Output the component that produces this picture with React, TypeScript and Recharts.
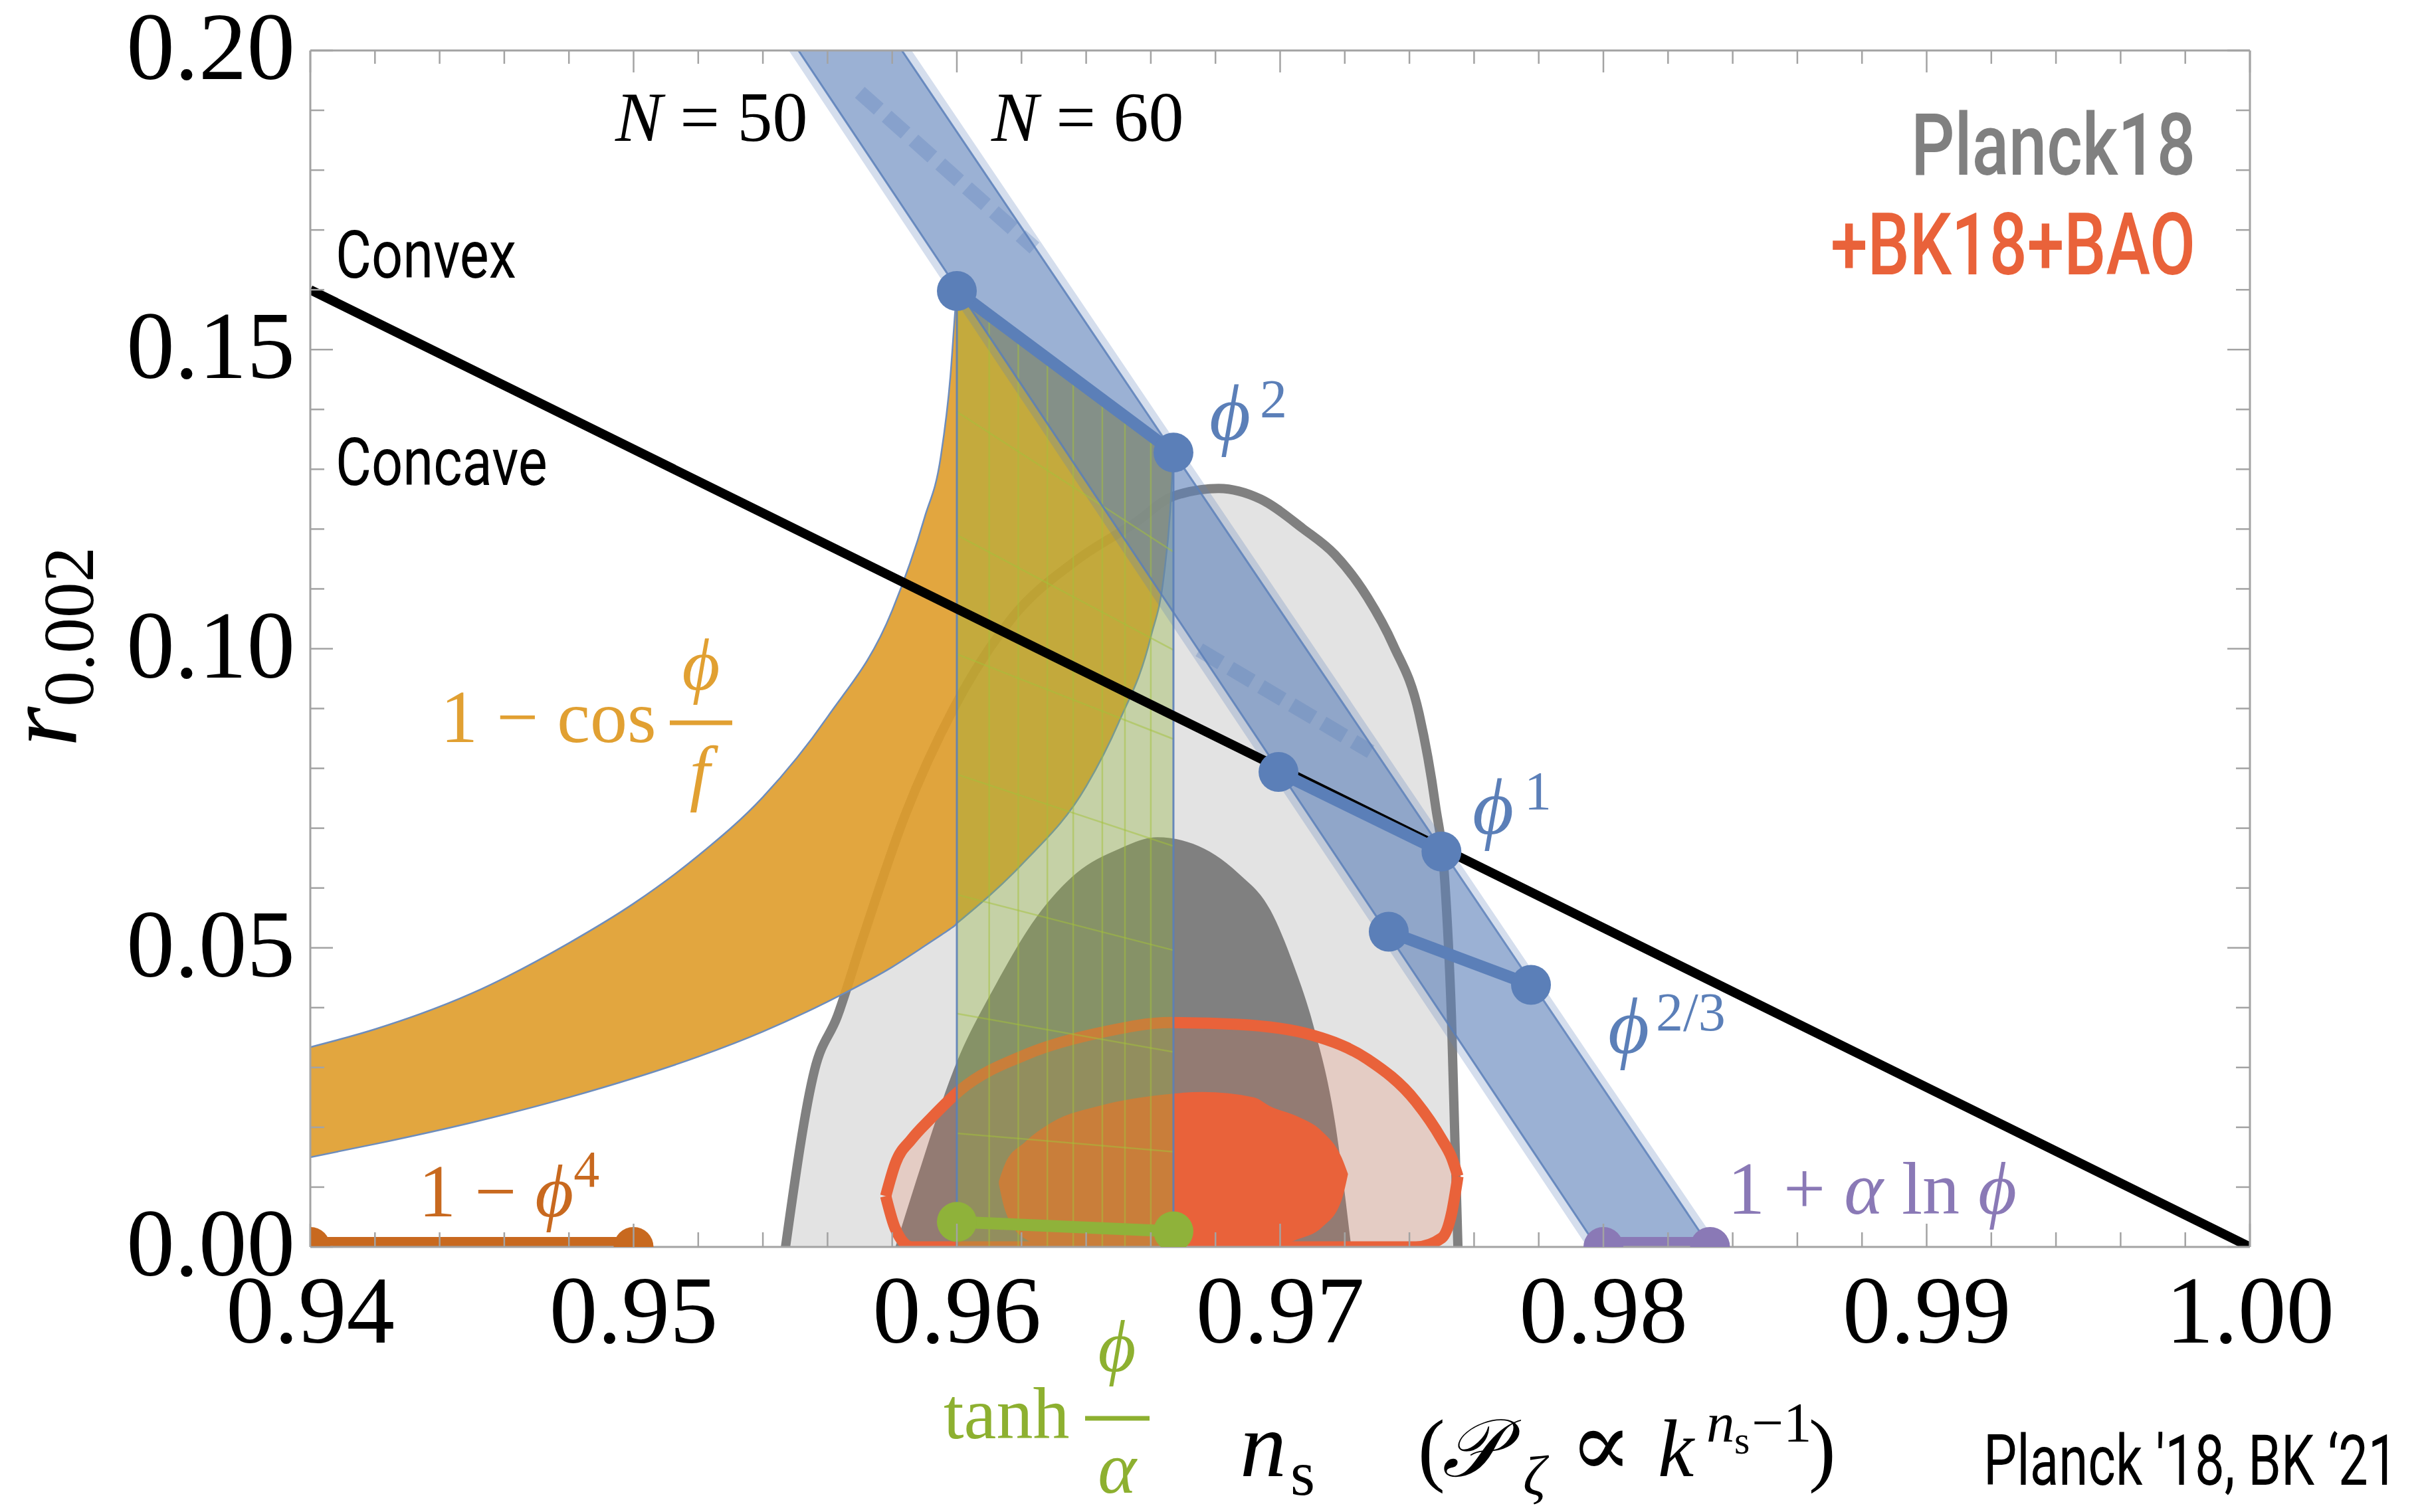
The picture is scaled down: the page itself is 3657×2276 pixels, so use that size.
import React from "react";
import { ComposedChart, Area, Line, XAxis, YAxis } from "recharts";

const W = 3657;
const H = 2276;

// inward tick marks on every side; labels only on the majors
const xTicks = [
  0.94, 0.942, 0.944, 0.946, 0.948, 0.95, 0.952, 0.954, 0.956, 0.958, 0.96, 0.962, 0.964, 0.966, 0.968, 0.97,
  0.972, 0.974, 0.976, 0.978, 0.98, 0.982, 0.984, 0.986, 0.988, 0.99, 0.992, 0.994, 0.996, 0.998, 1.0,
];
const yTicks = [
  0, 0.01, 0.02, 0.03, 0.04, 0.05, 0.06, 0.07, 0.08, 0.09, 0.1, 0.11, 0.12, 0.13, 0.14, 0.15, 0.16, 0.17, 0.18,
  0.19, 0.2,
];

// Planck18 contours (upper edge, cut at r = 0)
const planck95Ns = [
  0.9547, 0.9556, 0.9563, 0.9571, 0.9584, 0.9599, 0.9617, 0.9637, 0.9655, 0.9667, 0.9681, 0.9694, 0.9707, 0.9717,
  0.9727, 0.9735, 0.9743, 0.9748, 0.9751, 0.9753, 0.9755,
];
const planck95R = [
  0, 0.0296, 0.0385, 0.0518, 0.0722, 0.09, 0.1051, 0.1148, 0.121, 0.1255, 0.1268, 0.125, 0.1201, 0.1157, 0.1086,
  0.1006, 0.0891, 0.074, 0.0607, 0.0385, 0,
];
const planck68Ns = [
  0.9581, 0.9589, 0.9599, 0.9612, 0.9625, 0.9637, 0.965, 0.9662, 0.9673, 0.9687, 0.9697, 0.9704, 0.971, 0.9717, 0.9722,
];
const planck68R = [
  0, 0.0137, 0.0296, 0.0438, 0.0554, 0.0625, 0.0665, 0.0685, 0.0674, 0.0625, 0.0563, 0.0474, 0.0376, 0.0208, 0,
];

// Planck18+BK18+BAO contours, lower / upper edge at each n_s
const bk95Ns = [
  0.9578, 0.9581, 0.9586, 0.9592, 0.9601, 0.9622, 0.9645, 0.9666, 0.9687, 0.971, 0.9727, 0.9742, 0.975, 0.9753,
  0.9755,
];
const bk95Lo = [0.0085, 0.003, 0, 0, 0, 0, 0, 0, 0, 0, 0, 0, 0.0015, 0.0055, 0.0118];
const bk95Hi = [
  0.0085, 0.014, 0.018, 0.0215, 0.0262, 0.0323, 0.0359, 0.0375, 0.0372, 0.0354, 0.0314, 0.0243, 0.018, 0.015, 0.0118,
];
const bk68Ns = [0.9613, 0.9615, 0.9621, 0.9629, 0.9645, 0.9663, 0.9676, 0.9692, 0.9697, 0.9705, 0.9713, 0.9719, 0.9721];
const bk68Lo = [0.0105, 0.006, 0.0014, 0, 0, 0, 0, 0, 0, 0.0012, 0.0033, 0.0078, 0.0122];
const bk68Hi = [0.011, 0.014, 0.0175, 0.0207, 0.0237, 0.0254, 0.0259, 0.025, 0.0235, 0.0219, 0.0193, 0.015, 0.0122];

// 1 - cos(phi/f): between the N = 60 edge (lower) and N = 50 edge (upper),
// split at n_s = 0.96 where the upper edge turns into the phi^2 segment
const natNs = [0.94, 0.942, 0.945, 0.948, 0.95, 0.952, 0.954, 0.956, 0.958, 0.959, 0.9595, 0.9598, 0.95995, 0.96];
const natLo = [0.015, 0.0172, 0.0208, 0.025, 0.0282, 0.0318, 0.036, 0.041, 0.0468, 0.0503, 0.0521, 0.0532, 0.0538, 0.0541];
const natHi = [0.0334, 0.0364, 0.0424, 0.0508, 0.0574, 0.0654, 0.0752, 0.0886, 0.1064, 0.1219, 0.132, 0.1455, 0.1566, 0.16];
const natTopNs = [0.96, 0.962, 0.964, 0.965, 0.966, 0.9664, 0.9666, 0.9667];
const natTopLo = [0.0541, 0.0639, 0.077, 0.0876, 0.102, 0.112, 0.123, 0.133];
const natTopHi = [0.16, 0.1519, 0.1439, 0.1398, 0.1357, 0.1342, 0.1334, 0.133];

// phi^p band (outer fringe and main band)
const polyOuterNs = [0.9548, 0.9586, 0.9795, 0.9836];
const polyOuterLo = [0.2, 0.1692, 0, 0];
const polyOuterHi = [0.2, 0.2, 0.0326, 0];
const polyNs = [0.9551, 0.9583, 0.9798, 0.9833];
const polyLo = [0.2, 0.1741, 0, 0];
const polyHi = [0.2, 0.2, 0.0278, 0];
const polyLeftNs = [0.9551, 0.9798];
const polyRightNs = [0.9583, 0.9833];
const polyEdgeR = [0.2, 0];
// darker dashed streaks across the band
const streakANs = [0.957, 0.9624];
const streakAR = [0.193, 0.167];
const streakBNs = [0.9675, 0.9728];
const streakBR = [0.0998, 0.0828];

// tanh(phi/alpha) strip and its mesh
const tanhNs = [0.96, 0.9667];
const tanhTop = [0.16, 0.133];
const meshNs = [0.961, 0.9619, 0.9628, 0.9636, 0.9645, 0.9652, 0.966];
const meshTop = [0.156, 0.1523, 0.1487, 0.1455, 0.1419, 0.139, 0.1358];
const meshLeft = [0.1396, 0.119, 0.0991, 0.079, 0.0589, 0.039, 0.019];
const meshRight = [0.1162, 0.0998, 0.0849, 0.067, 0.0496, 0.0326, 0.0159];

// model predictions, N = 50 -> N = 60
const phi2Ns = [0.96, 0.9667];
const phi2R = [0.1598, 0.1328];
const phi1Ns = [0.96995, 0.97499];
const phi1R = [0.0794, 0.0661];
const phi23Ns = [0.97336, 0.97776];
const phi23R = [0.0527, 0.0438];
const tanhDotNs = [0.96, 0.9667];
const tanhDotR = [0.0042, 0.0026];
const quarticNs = [0.94, 0.95];
const quarticR = [0, 0];
const logNs = [0.98, 0.9833];
const logR = [0, 0];

// convex / concave boundary
const boundaryNs = [0.94, 1.0];
const boundaryR = [0.16, 0];

const BLUE = "#5b7fb8";
const ORANGE = "#df9c2a";
const GREEN = "#8fb23a";
const RED = "#e9623a";
const GRAY = "#808080";
const QUARTIC = "#c8691f";
const PURPLE = "#8a79b6";
const FRAME = "#a3a3a3";

const serif = "'Liberation Serif', 'DejaVu Serif', serif";
const sans = "Roboto, 'DejaVu Sans', sans-serif";

const pts = (xs: number[], ys: number[]) => xs.map((x, i) => ({ x, y: ys[i] }));
const rng = (xs: number[], lo: number[], hi: number[]) => xs.map((x, i) => ({ x, r: [lo[i], hi[i]] }));

const isMajorX = (v: number) => Math.abs(v * 100 - Math.round(v * 100)) < 1e-6;
const isMajorY = (v: number) => Math.abs(v * 20 - Math.round(v * 20)) < 1e-6;

function BottomTick(props: any) {
  const { x, y, payload } = props;
  const major = isMajorX(payload.value);
  return (
    <g>
      <line x1={x} x2={x} y1={y} y2={y - (major ? 35 : 22)} stroke={FRAME} strokeWidth={2.5} />
      {major && (
        <text x={x} y={y + 144} textAnchor="middle" fontFamily={serif} fontSize={145} fill="#000">
          {payload.value.toFixed(2)}
        </text>
      )}
    </g>
  );
}

function TopTick(props: any) {
  const { x, y, payload } = props;
  const major = isMajorX(payload.value);
  return <line x1={x} x2={x} y1={y} y2={y + (major ? 33 : 20)} stroke={FRAME} strokeWidth={2.5} />;
}

function LeftTick(props: any) {
  const { x, y, payload } = props;
  const major = isMajorY(payload.value);
  return (
    <g>
      <line x1={x} x2={x + (major ? 34 : 21)} y1={y} y2={y} stroke={FRAME} strokeWidth={2.5} />
      {major && (
        <text x={x - 23} y={y + 43} textAnchor="end" fontFamily={serif} fontSize={145} fill="#000">
          {payload.value.toFixed(2)}
        </text>
      )}
    </g>
  );
}

function RightTick(props: any) {
  const { x, y, payload } = props;
  const major = isMajorY(payload.value);
  return <line x1={x} x2={x - (major ? 34 : 21)} y1={y} y2={y} stroke={FRAME} strokeWidth={2.5} />;
}

// condensed sans text: squeeze horizontally around its anchor
function Narrow({ x, y, size, sx, anchor, weight, fill, children }: any) {
  return (
    <text
      transform={`translate(${x} ${y}) scale(${sx} 1)`}
      textAnchor={anchor || "start"}
      fontFamily={sans}
      fontSize={size}
      fontWeight={weight || 400}
      fill={fill || "#000"}
    >
      {children}
    </text>
  );
}

export default function App() {
  const frame = { stroke: FRAME, strokeWidth: 3 };
  const seg = (xs: number[], ys: number[], color: string, width: number, r: number, key: string) => (
    <Line
      key={key}
      data={pts(xs, ys)}
      dataKey="y"
      type="linear"
      stroke={color}
      strokeWidth={width}
      dot={r > 0 ? { r, fill: color, stroke: "none", strokeWidth: 0 } : false}
      activeDot={false}
      isAnimationActive={false}
    />
  );
  const thin = (
    xs: number[],
    ys: number[],
    color: string,
    width: number,
    opacity: number,
    key: string,
    dash?: string
  ) => (
    <Line
      key={key}
      data={pts(xs, ys)}
      dataKey="y"
      type="linear"
      stroke={color}
      strokeWidth={width}
      strokeOpacity={opacity}
      strokeDasharray={dash}
      dot={false}
      activeDot={false}
      isAnimationActive={false}
    />
  );

  return (
    <div style={{ position: "absolute", left: 0, top: 0, width: W, height: H, background: "#fff" }}>
      <ComposedChart width={W} height={H} margin={{ top: 75, right: 270, bottom: 398, left: 466 }}>
        <XAxis
          type="number"
          dataKey="x"
          domain={[0.94, 1]}
          ticks={xTicks}
          interval={0}
          allowDataOverflow
          height={1}
          tickSize={0}
          tickMargin={0}
          tickLine={false}
          axisLine={frame}
          tick={<BottomTick />}
        />
        <XAxis
          xAxisId="top"
          orientation="top"
          type="number"
          dataKey="x"
          domain={[0.94, 1]}
          ticks={xTicks}
          interval={0}
          allowDataOverflow
          height={1}
          tickSize={0}
          tickMargin={0}
          tickLine={false}
          axisLine={frame}
          tick={<TopTick />}
        />
        <YAxis
          type="number"
          domain={[0, 0.2]}
          ticks={yTicks}
          interval={0}
          allowDataOverflow
          width={1}
          tickSize={0}
          tickMargin={0}
          tickLine={false}
          axisLine={frame}
          tick={<LeftTick />}
        />
        <YAxis
          yAxisId="right"
          orientation="right"
          type="number"
          domain={[0, 0.2]}
          ticks={yTicks}
          interval={0}
          allowDataOverflow
          width={1}
          tickSize={0}
          tickMargin={0}
          tickLine={false}
          axisLine={frame}
          tick={<RightTick />}
        />

        <Area
          data={pts(planck95Ns, planck95R)}
          dataKey="y"
          type="monotone"
          fill="#e3e3e3"
          fillOpacity={1}
          stroke={GRAY}
          strokeWidth={14}
          isAnimationActive={false}
        />
        <Area
          data={pts(planck68Ns, planck68R)}
          dataKey="y"
          type="monotone"
          fill={GRAY}
          fillOpacity={1}
          stroke="none"
          isAnimationActive={false}
        />
        <Area
          data={rng(bk95Ns, bk95Lo, bk95Hi)}
          dataKey="r"
          type="monotone"
          fill={RED}
          fillOpacity={0.18}
          stroke={RED}
          strokeWidth={17}
          isAnimationActive={false}
        />
        <Area
          data={rng(bk68Ns, bk68Lo, bk68Hi)}
          dataKey="r"
          type="monotone"
          fill={RED}
          fillOpacity={1}
          stroke="none"
          isAnimationActive={false}
        />
        <Area
          data={rng(natNs, natLo, natHi)}
          dataKey="r"
          type="monotone"
          fill={ORANGE}
          fillOpacity={0.9}
          stroke="#6d8dbd"
          strokeWidth={2.5}
          isAnimationActive={false}
        />
        <Area
          data={rng(natTopNs, natTopLo, natTopHi)}
          dataKey="r"
          type="monotone"
          fill={ORANGE}
          fillOpacity={0.9}
          stroke="#6d8dbd"
          strokeWidth={2.5}
          isAnimationActive={false}
        />
        <Area
          data={rng(tanhNs, [0, 0], tanhTop)}
          dataKey="r"
          type="linear"
          fill={GREEN}
          fillOpacity={0.36}
          stroke="none"
          isAnimationActive={false}
        />
        <Area
          data={rng(polyOuterNs, polyOuterLo, polyOuterHi)}
          dataKey="r"
          type="linear"
          fill={BLUE}
          fillOpacity={0.26}
          stroke="none"
          isAnimationActive={false}
        />
        <Area
          data={rng(polyNs, polyLo, polyHi)}
          dataKey="r"
          type="linear"
          fill={BLUE}
          fillOpacity={0.48}
          stroke="none"
          isAnimationActive={false}
        />

        {meshNs.map((m, i) => thin([m, m], [0, meshTop[i]], "#a3c23a", 2.5, 0.5, `mv${i}`))}
        {meshLeft.map((l, i) => thin([0.96, 0.9667], [l, meshRight[i]], "#a3c23a", 2.5, 0.5, `ms${i}`))}
        {thin([0.96, 0.96], [0, 0.16], BLUE, 3, 0.9, "te0")}
        {thin([0.9667, 0.9667], [0, 0.133], BLUE, 3, 0.9, "te1")}
        {thin(polyLeftNs, polyEdgeR, BLUE, 3, 0.85, "pl")}
        {thin(polyRightNs, polyEdgeR, BLUE, 3, 0.85, "pr")}
        {thin(streakANs, streakAR, BLUE, 22, 0.3, "sa", "38 16")}
        {thin(streakBNs, streakBR, BLUE, 22, 0.3, "sb", "38 16")}

        {seg(boundaryNs, boundaryR, "#000", 14, 0, "bd")}
        {seg(phi2Ns, phi2R, BLUE, 18, 30, "p2")}
        {seg(phi1Ns, phi1R, BLUE, 18, 30, "p1")}
        {seg(phi23Ns, phi23R, BLUE, 18, 30, "p23")}
        {seg(tanhDotNs, tanhDotR, GREEN, 18, 30, "th")}
        {seg(quarticNs, quarticR, QUARTIC, 30, 30, "q4")}
        {seg(logNs, logR, PURPLE, 30, 30, "lg")}
      </ComposedChart>

      <svg width={W} height={H} style={{ position: "absolute", left: 0, top: 0, pointerEvents: "none" }}>
        <text x={926} y={212} fontFamily={serif} fontSize={106} fill="#000">
          <tspan fontStyle="italic">N</tspan> = 50
        </text>
        <text x={1492} y={212} fontFamily={serif} fontSize={106} fill="#000">
          <tspan fontStyle="italic">N</tspan> = 60
        </text>
        <Narrow x={505} y={418} size={100} sx={0.83}>
          Convex
        </Narrow>
        <Narrow x={505} y={730} size={100} sx={0.83}>
          Concave
        </Narrow>
        <Narrow x={3304} y={263} size={130} sx={0.79} anchor="end" weight={500} fill={GRAY}>
          Planck18
        </Narrow>
        <Narrow x={3304} y={413} size={130} sx={0.77} anchor="end" weight={500} fill={RED}>
          +BK18+BAO
        </Narrow>

        <text x={1820} y={662} fontFamily={serif} fontSize={120} fontStyle="italic" fill={BLUE}>
          ϕ
        </text>
        <text x={1896} y={628} fontFamily={serif} fontSize={82} fill={BLUE}>
          2
        </text>
        <text x={2216} y={1255} fontFamily={serif} fontSize={120} fontStyle="italic" fill={BLUE}>
          ϕ
        </text>
        <text x={2294} y={1218} fontFamily={serif} fontSize={82} fill={BLUE}>
          1
        </text>
        <text x={2420} y={1585} fontFamily={serif} fontSize={120} fontStyle="italic" fill={BLUE}>
          ϕ
        </text>
        <text x={2492} y={1551} fontFamily={serif} fontSize={82} fill={BLUE}>
          2/3
        </text>

        <text x={2600} y={1827} fontFamily={serif} fontSize={112} fill={PURPLE}>
          1 + <tspan fontStyle="italic">α</tspan> ln <tspan fontStyle="italic">ϕ</tspan>
        </text>
        <text x={630} y={1831} fontFamily={serif} fontSize={112} fill={QUARTIC}>
          1 − <tspan fontStyle="italic">ϕ</tspan>
          <tspan fontSize={78} dy={-45}>
            4
          </tspan>
        </text>

        <text x={663} y={1117} fontFamily={serif} fontSize={112} fill="#e1a032">
          1 − cos
        </text>
        <text x={1055} y={1038} textAnchor="middle" fontFamily={serif} fontSize={110} fontStyle="italic" fill="#e1a032">
          ϕ
        </text>
        <line x1={1008} x2={1102} y1={1088} y2={1088} stroke="#e1a032" strokeWidth={7} />
        <text x={1053} y={1200} textAnchor="middle" fontFamily={serif} fontSize={110} fontStyle="italic" fill="#e1a032">
          f
        </text>

        <text x={1420} y={2165} fontFamily={serif} fontSize={110} fill="#8db030">
          tanh
        </text>
        <text x={1681} y={2064} textAnchor="middle" fontFamily={serif} fontSize={110} fontStyle="italic" fill="#8db030">
          ϕ
        </text>
        <line x1={1633} x2={1730} y1={2135} y2={2135} stroke="#8db030" strokeWidth={7} />
        <text x={1681} y={2247} textAnchor="middle" fontFamily={serif} fontSize={110} fontStyle="italic" fill="#8db030">
          α
        </text>

        <text x={1866} y={2222} fontFamily={serif} fontSize={140} fontStyle="italic" fill="#000">
          n
        </text>
        <text x={1942} y={2250} fontFamily={serif} fontSize={95} fill="#000">
          s
        </text>
        <text x={2134} y={2222} fontFamily={serif} fontSize={122} fill="#000">
          (
        </text>
        <text x={2170} y={2222} fontFamily={serif} fontSize={122} fontStyle="italic" fill="#000">
          𝒫
        </text>
        <text x={2292} y={2250} fontFamily={serif} fontSize={85} fontStyle="italic" fill="#000">
          ζ
        </text>
        <text x={2362} y={2222} fontFamily={serif} fontSize={140} fill="#000">
          ∝
        </text>
        <text x={2495} y={2222} fontFamily={serif} fontSize={122} fontStyle="italic" fill="#000">
          k
        </text>
        <text x={2568} y={2170} fontFamily={serif} fontSize={85} fontStyle="italic" fill="#000">
          n
        </text>
        <text x={2610} y={2188} fontFamily={serif} fontSize={60} fill="#000">
          s
        </text>
        <text x={2636} y={2170} fontFamily={serif} fontSize={85} fill="#000">
          −1
        </text>
        <text x={2722} y={2222} fontFamily={serif} fontSize={122} fill="#000">
          )
        </text>
        <Narrow x={2985} y={2235} size={105} sx={0.76}>
          Planck '18, BK ‘21
        </Narrow>

        <text transform="translate(114, 1124) rotate(-90)" fontFamily={serif} fontSize={155} fill="#000">
          <tspan fontStyle="italic">r</tspan>
          <tspan fontSize={107} dy={26}>
            0.002
          </tspan>
        </text>
      </svg>
    </div>
  );
}
